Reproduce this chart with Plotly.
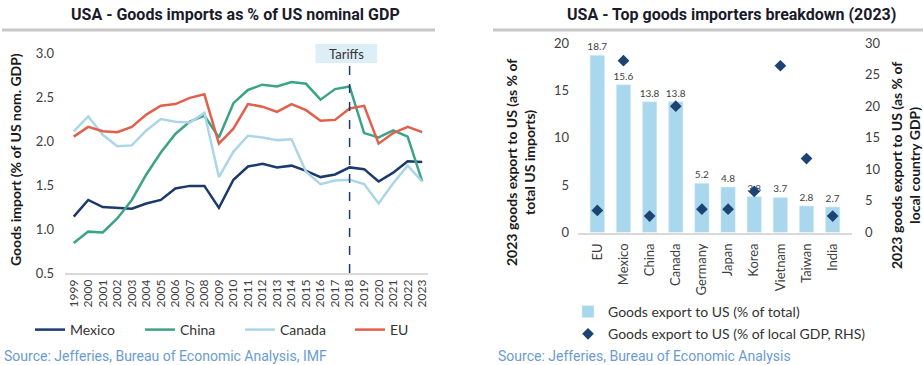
import plotly.graph_objects as go

years = list(range(1999, 2024))
mexico = [1.14, 1.33, 1.25, 1.24, 1.23, 1.29, 1.33, 1.46, 1.49, 1.49, 1.24, 1.56, 1.71, 1.74, 1.70, 1.72, 1.66, 1.59, 1.62, 1.70, 1.68, 1.54, 1.64, 1.77, 1.76]
china = [0.84, 0.97, 0.96, 1.12, 1.33, 1.62, 1.87, 2.08, 2.22, 2.29, 2.04, 2.43, 2.58, 2.64, 2.62, 2.67, 2.65, 2.47, 2.59, 2.62, 2.09, 2.04, 2.12, 2.05, 1.54]
canada = [2.11, 2.28, 2.07, 1.94, 1.95, 2.12, 2.25, 2.22, 2.21, 2.32, 1.59, 1.88, 2.06, 2.04, 2.01, 2.02, 1.65, 1.51, 1.55, 1.56, 1.51, 1.29, 1.52, 1.72, 1.54]
eu = [2.05, 2.16, 2.11, 2.10, 2.16, 2.30, 2.40, 2.42, 2.49, 2.53, 1.97, 2.14, 2.42, 2.39, 2.33, 2.42, 2.35, 2.23, 2.24, 2.37, 2.40, 1.97, 2.09, 2.16, 2.10]

countries = ["EU", "Mexico", "China", "Canada", "Germany", "Japan", "Korea", "Vietnam", "Taiwan", "India"]
share_total = [18.7, 15.6, 13.8, 13.8, 5.2, 4.8, 3.8, 3.7, 2.8, 2.7]
share_gdp = [3.5, 27.2, 2.6, 20.0, 3.7, 3.7, 6.5, 26.4, 11.7, 2.6]

W, H = 923, 365
def px(x): return x / W
def py(y): return 1 - y / H

TICK_FONT = dict(family="Lato", size=13, color="#404040")
LEG_FONT = dict(family="Lato", size=14, color="#333333")
fig = go.Figure()

line_specs = [("Mexico", mexico, "#1b3a6b", "legend", 30), ("China", china, "#3ba386", "legend3", 140),
              ("Canada", canada, "#acd6e8", "legend4", 240), ("EU", eu, "#e2604b", "legend5", 350)]
leg_layouts = {}
for name, vals, col, leg, lx in line_specs:
    fig.add_trace(go.Scatter(x=years, y=vals, name=name, mode="lines",
                             line=dict(color=col, width=2.5), xaxis="x", yaxis="y", legend=leg))
    leg_layouts[leg] = dict(orientation="h", x=px(lx), xanchor="left", y=py(330), yanchor="middle",
                            font=LEG_FONT, bgcolor="rgba(0,0,0,0)", itemwidth=30)

fig.add_trace(go.Bar(x=countries, y=share_total, name="Goods export to US (% of total)",
                     marker_color="#a9d8ee", text=[f"{v:.1f}" for v in share_total],
                     textposition="outside", constraintext="none",
                     textfont=dict(family="Lato", size=10, color="#404040"), legendgroup="a",
                     cliponaxis=False, xaxis="x2", yaxis="y2", legend="legend2"))
fig.add_trace(go.Scatter(x=countries, y=share_gdp, name="Goods export to US (% of local GDP, RHS)",
                         mode="markers", marker=dict(symbol="diamond", size=9, color="#1d4373"), legendgroup="b",
                         xaxis="x2", yaxis="y3", legend="legend2"))

fig.update_layout(
    width=W, height=H, margin=dict(l=0, r=0, t=0, b=0, autoexpand=False),
    paper_bgcolor="white", plot_bgcolor="white", showlegend=True,
    font=dict(family="Lato", color="#333333"),
    xaxis=dict(domain=[px(65), px(428)], range=[1998.4, 2023.4], tickmode="array", tickvals=years, anchor="y",
               ticktext=[str(y) for y in years], tickangle=-90, tickfont=dict(family="Lato", size=12, color="#404040"),
               showgrid=False, showline=True, linecolor="#d9d9d9", linewidth=1.5, zeroline=False, ticks="",
               automargin=False),
    yaxis=dict(domain=[py(273), py(53)], range=[0.5, 3.0], dtick=0.5, tickformat=".1f", automargin=False,
               anchor="x", showgrid=False, showline=False, zeroline=False, tickfont=TICK_FONT, ticklabelstandoff=10),
    xaxis2=dict(domain=[px(578), px(852)], anchor="y2", showgrid=False, showline=True, linecolor="#d9d9d9",
                linewidth=1.5, tickangle=-90, tickfont=dict(family="Lato", size=13, color="#404040"), ticks="",
                automargin=False, ticklabelstandoff=4),
    yaxis2=dict(domain=[py(232.5), py(43)], range=[0, 20], dtick=5, anchor="x2", showgrid=False, automargin=False,
                zeroline=False, showline=False, tickfont=TICK_FONT, ticklabelstandoff=8),
    yaxis3=dict(domain=[py(232.5), py(43)], range=[0, 30], dtick=5, overlaying="y2", side="right", anchor="x2",
                showgrid=False, zeroline=False, showline=False, tickfont=TICK_FONT, ticklabelstandoff=12,
                automargin=False),
    bargap=0.45,
    legend2=dict(orientation="v", x=px(568), xanchor="left", y=py(296), yanchor="top",
                 font=LEG_FONT, itemwidth=30, tracegroupgap=1, bgcolor="rgba(0,0,0,0)"),
    **leg_layouts,
)

# Tariff marker
fig.add_shape(type="line", xref="x", yref="y", x0=2018, x1=2018, y0=0.5, y1=2.94,
              line=dict(color="#1b3a6b", width=1.5, dash="dash"))
fig.add_shape(type="rect", xref="x", yref="paper", x0=2015.65, x1=2019.9, y0=py(63), y1=py(44),
              fillcolor="#ddeef8", line=dict(width=0), layer="below")
fig.add_annotation(x=2017.8, xref="x", y=py(53.5), yref="paper", xanchor="center", yanchor="middle",
                   text="Tariffs", showarrow=False, font=dict(family="Lato", size=13, color="#333333"))

# Titles and separator lines
title_font = dict(family="Roboto", size=16, color="#1a1a2a")
fig.add_annotation(x=px(235), y=py(15), xref="paper", yref="paper", xanchor="center", yanchor="middle",
                   text="<b>USA - Goods imports as % of US nominal GDP</b>", showarrow=False, font=title_font)
fig.add_annotation(x=px(731), y=py(15), xref="paper", yref="paper", xanchor="center", yanchor="middle",
                   text="<b>USA - Top goods importers breakdown (2023)</b>", showarrow=False, font=title_font)
fig.add_shape(type="line", xref="paper", yref="paper", x0=px(2), x1=px(435), y0=py(30), y1=py(30),
              line=dict(color="#c8c8c8", width=3))
fig.add_shape(type="line", xref="paper", yref="paper", x0=px(493), x1=px(923), y0=py(30), y1=py(30),
              line=dict(color="#c8c8c8", width=3))

# Axis titles
ytf = dict(family="Lato", size=14, color="#1a1a1a")
fig.add_annotation(x=px(15), y=py(160), xref="paper", yref="paper", xanchor="center", yanchor="middle",
                   text="<b>Goods import (% of US nom. GDP)</b>", textangle=-90, showarrow=False, font=ytf)
fig.add_annotation(x=px(520), y=py(163), xref="paper", yref="paper", xanchor="center", yanchor="middle",
                   text="<b>2023 goods export to US (as % of<br>total US imports)</b>",
                   textangle=-90, showarrow=False, font=ytf)
fig.add_annotation(x=px(905), y=py(166), xref="paper", yref="paper", xanchor="center", yanchor="middle",
                   text="<b>2023 goods export to US (as % of<br>local country GDP)</b>",
                   textangle=-90, showarrow=False, font=ytf)

# Sources
src_font = dict(family="Roboto", size=14, color="#6b9bd2")
fig.add_annotation(x=px(2), y=py(356), xref="paper", yref="paper", xanchor="left", yanchor="middle",
                   text="Source: Jefferies, Bureau of Economic Analysis, IMF", showarrow=False, font=src_font)
fig.add_annotation(x=px(496), y=py(356), xref="paper", yref="paper", xanchor="left", yanchor="middle",
                   text="Source: Jefferies, Bureau of Economic Analysis", showarrow=False, font=src_font)

fig.write_html("out.html", config={"displayModeBar": False},
               post_script="document.body.style.margin='0';document.body.style.overflow='hidden';")
